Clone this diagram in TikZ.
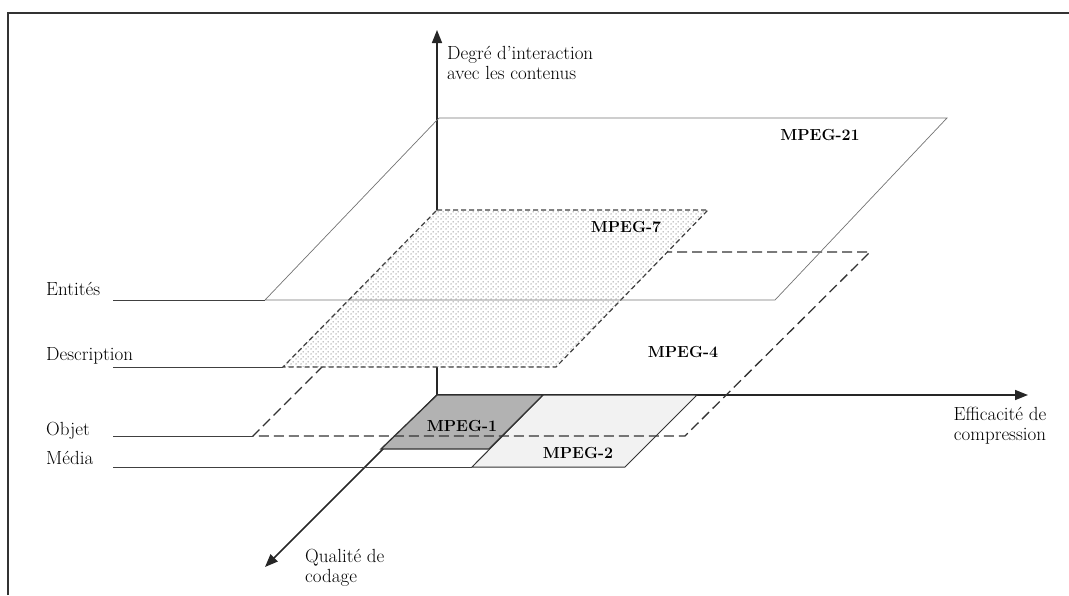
\documentclass[tikz,border=0pt]{standalone}
\usepackage{tikz}
\usetikzlibrary{arrows.meta, patterns, positioning}
\colorlet{linegray}{black!75}
\colorlet{darkplane}{black!30}
\colorlet{lightplane}{black!5}
\pgfdeclarepatternformonly{mpegdots}{\pgfpointorigin}{\pgfpoint{5pt}{5pt}}{\pgfpoint{5pt}{5pt}}{%
  \pgfpathcircle{\pgfpoint{1.25pt}{1.25pt}}{0.8pt}%
  \pgfpathcircle{\pgfpoint{3.75pt}{3.75pt}}{0.8pt}%
  \pgfusepath{fill}}
\tikzstyle{frame}=[line width=2.4pt, black!80]
\tikzstyle{axis}=[line width=1.6pt, black!85, -{Triangle[length=13pt,width=10pt]}]
\tikzstyle{level}=[linegray, line width=0.9pt]
\tikzstyle{plane21}=[black!55, line width=0.7pt]
\tikzstyle{plane7}=[black!75, line width=1.2pt, dash pattern=on 5pt off 3pt]
\tikzstyle{plane4}=[black!80, line width=1.3pt, dash pattern=on 10pt off 5pt]
\tikzstyle{plane12}=[black!80, line width=1.3pt]
\tikzstyle{txt}=[inner sep=0, font=\fontsize{19}{20}\selectfont]
\tikzstyle{mpeg}=[inner sep=0, font=\fontsize{16}{19}\selectfont\bfseries]

\begin{document}
\begin{tikzpicture}[x=1pt, y=-1pt]
  \useasboundingbox (0,0) rectangle (1069,595);
  \draw[frame] (8,595) -- (8,13) -- (1069,13);

  % axes
  \coordinate (O) at (437,395);
  \coordinate (zend) at (437,30);
  \coordinate (xend) at (1028,395);
  \coordinate (yend) at (265,567);
  \draw[axis] (O) -- (zend);
  \draw[axis] (O) -- (xend);
  \draw[axis] (O) -- (yend);

  \node[txt, anchor=north west, align=left] (degre) at (447,46) {Degré d’interaction\\avec les contenus};
  \node[txt, align=center] (effic) at (1000,426) {Efficacité de\\compression};
  \node[txt, anchor=north west, align=left] (qualite) at (305,549) {Qualité de\\codage};

  % level labels
  \node[txt, anchor=west] (ent) at (46,289) {Entités};
  \node[txt, anchor=west] (desc) at (46,356) {Description};
  \node[txt, anchor=west] (obj) at (46,431) {Objet};
  \node[txt, anchor=west] (med) at (46,458) {Média};
  \coordinate (entL) at (113,300);
  \coordinate (descL) at (113,367);
  \coordinate (objL) at (113,436);
  \coordinate (medL) at (113,467);

  % MPEG-2
  \coordinate (m2a) at (543,395);
  \coordinate (m2b) at (697,395);
  \coordinate (m2c) at (625,467);
  \coordinate (m2d) at (472,467);
  \draw[plane12, line width=1pt, fill=lightplane] (m2a) -- (m2b) -- (m2c) -- (m2d) -- cycle;
  \draw[level] (medL) -- (m2d);
  \node[mpeg] (mp2) at (578,453) {MPEG-2};

  % MPEG-1
  \coordinate (m1b) at (543,395);
  \coordinate (m1c) at (489,449);
  \coordinate (m1d) at (381,449);
  \draw[plane12, fill=darkplane] (O) -- (m1b) -- (m1c) -- (m1d) -- cycle;
  \node[mpeg] (mp1) at (462,426) {MPEG-1};

  % MPEG-4
  \coordinate (m4a) at (437,252);
  \coordinate (m4b) at (870,252);
  \coordinate (m4c) at (685,436);
  \coordinate (m4d) at (253,436);
  \draw[plane4] (m4a) -- (m4b) -- (m4c) -- (m4d) -- cycle;
  \draw[level] (objL) -- (m4d);
  \node[mpeg] (mp4) at (683,352) {MPEG-4};

  % MPEG-7
  \coordinate (m7a) at (437,210);
  \coordinate (m7b) at (708,210);
  \coordinate (m7c) at (556,367);
  \coordinate (m7d) at (283,367);
  \draw[plane7, preaction={fill=white}, pattern=mpegdots, pattern color=black!45] (m7a) -- (m7b) -- (m7c) -- (m7d) -- cycle;
  \draw[level] (descL) -- (m7d);
  \node[mpeg] (mp7) at (626,227) {MPEG-7};

  % MPEG-21
  \coordinate (m21a) at (439,118);
  \coordinate (m21b) at (947,118);
  \coordinate (m21c) at (775,300);
  \coordinate (m21d) at (265,300);
  \draw[plane21] (m21a) -- (m21b) -- (m21c) -- (m21d) -- cycle;
  \draw[level] (entL) -- (m21d);
  \node[mpeg] (mp21) at (820,135) {MPEG-21};
\end{tikzpicture}
\end{document}
